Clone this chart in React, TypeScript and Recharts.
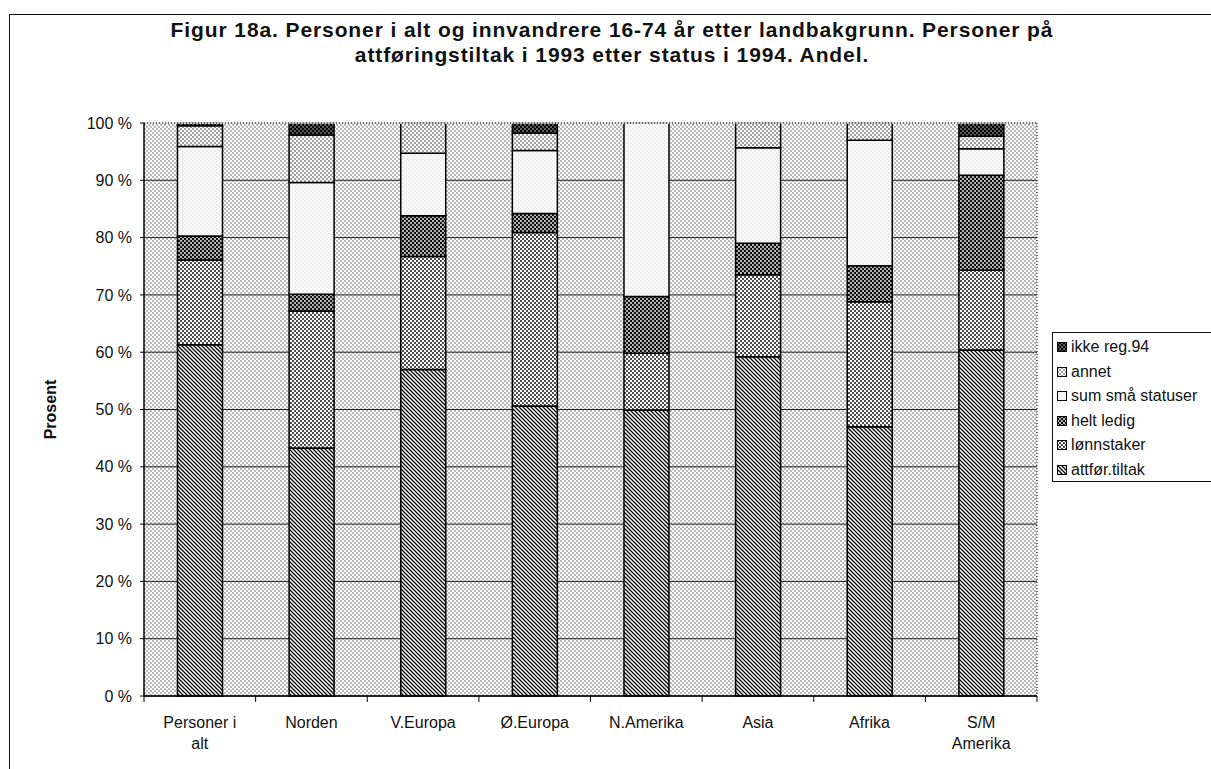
import { BarChart, Bar, XAxis, YAxis, CartesianGrid, ReferenceLine } from "recharts";

const categories = ["Personer i\nalt", "Norden", "V.Europa", "Ø.Europa", "N.Amerika", "Asia", "Afrika", "S/M\nAmerika"];
const attforTiltak = [61.3, 43.3, 57.0, 50.6, 49.9, 59.2, 47.0, 60.4];
const lonnstaker = [14.8, 23.9, 19.7, 30.3, 9.9, 14.3, 21.8, 13.9];
const heltLedig = [4.2, 2.9, 7.1, 3.3, 9.9, 5.5, 6.3, 16.6];
const sumSmaStatuser = [15.6, 19.5, 10.9, 11.0, 30.3, 16.7, 21.9, 4.6];
const annet = [3.6, 8.3, 5.3, 3.0, 0, 4.3, 3.0, 2.2];
const ikkeReg94 = [0.5, 2.1, 0, 1.8, 0, 0, 0, 2.3];
const yTicks = [0, 10, 20, 30, 40, 50, 60, 70, 80, 90, 100];

const data = categories.map((c, i) => ({
  name: c,
  attfor: attforTiltak[i],
  lonn: lonnstaker[i],
  helt: heltLedig[i],
  sum: sumSmaStatuser[i],
  annet: annet[i],
  ikke: ikkeReg94[i],
}));

const series = [
  { key: "attfor", label: "attfør.tiltak", fill: "url(#pAttfor)" },
  { key: "lonn", label: "lønnstaker", fill: "url(#pLonn)" },
  { key: "helt", label: "helt ledig", fill: "url(#pHelt)" },
  { key: "sum", label: "sum små statuser", fill: "url(#pSum)" },
  { key: "annet", label: "annet", fill: "url(#pAnnet)" },
  { key: "ikke", label: "ikke reg.94", fill: "url(#pIkke)" },
];

const font = "'Liberation Sans', Arial, Helvetica, sans-serif";

// halftone-like fills, shared by bars and legend swatches
const Patterns = () => (
  <svg width={0} height={0} style={{ position: "absolute" }}>
    <defs>
      <pattern id="pBg" width={4} height={4} patternUnits="userSpaceOnUse">
        <rect width={4} height={4} fill="#fff" />
        <circle cx={1} cy={1} r={0.65} fill="#333" />
        <circle cx={3} cy={3} r={0.65} fill="#333" />
      </pattern>
      <pattern id="pAttfor" width={4} height={4} patternUnits="userSpaceOnUse">
        <rect width={4} height={4} fill="#fff" />
        <path d="M-1,-1 L5,5 M-1,3 L1,5 M3,-1 L5,1" stroke="#000" strokeWidth={1.25} />
      </pattern>
      <pattern id="pLonn" width={4} height={4} patternUnits="userSpaceOnUse">
        <rect width={4} height={4} fill="#fff" />
        <circle cx={1} cy={1} r={0.95} fill="#000" />
        <circle cx={3} cy={3} r={0.95} fill="#000" />
      </pattern>
      <pattern id="pHelt" width={4} height={4} patternUnits="userSpaceOnUse">
        <rect width={4} height={4} fill="#111" />
        <circle cx={1} cy={1} r={0.9} fill="#fff" />
        <circle cx={3} cy={3} r={0.9} fill="#fff" />
      </pattern>
      <pattern id="pSum" width={4} height={4} patternUnits="userSpaceOnUse">
        <rect width={4} height={4} fill="#fff" />
        <circle cx={1} cy={1} r={0.55} fill="#aaa" />
        <circle cx={3} cy={3} r={0.55} fill="#aaa" />
      </pattern>
      <pattern id="pAnnet" width={4} height={4} patternUnits="userSpaceOnUse">
        <rect width={4} height={4} fill="#fff" />
        <circle cx={1} cy={1} r={0.8} fill="#222" />
        <circle cx={3} cy={3} r={0.8} fill="#222" />
      </pattern>
      <pattern id="pIkke" width={4} height={4} patternUnits="userSpaceOnUse">
        <rect width={4} height={4} fill="#000" />
        <circle cx={1} cy={1} r={0.7} fill="#fff" />
        <circle cx={3} cy={3} r={0.7} fill="#fff" />
      </pattern>
    </defs>
  </svg>
);

const XTick = (props: any) => {
  const { x, y, payload } = props;
  const half = payload.offset || 55.8;
  const lines = String(payload.value).split("\n");
  const isLast = payload.value === categories[categories.length - 1];
  return (
    <g>
      <line x1={x - half} x2={x - half} y1={y} y2={y + 6} stroke="#000" strokeWidth={1} />
      {isLast && <line x1={x + half} x2={x + half} y1={y} y2={y + 6} stroke="#000" strokeWidth={1} />}
      <text x={x} y={y + 32} textAnchor="middle" fontSize={16} fontFamily={font} fill="#111">
        {lines.map((l, i) => (
          <tspan key={i} x={x} dy={i === 0 ? 0 : 21}>
            {l}
          </tspan>
        ))}
      </text>
    </g>
  );
};

const App = () => {
  return (
    <div style={{ position: "absolute", left: 0, top: 0, width: 1211, height: 769, background: "#fff", overflow: "hidden", fontFamily: font }}>
      <Patterns />
      <div style={{ position: "absolute", left: 9, top: 14, width: 1400, height: 900, borderLeft: "1.5px solid #111", borderTop: "1.5px solid #111" }} />
      <div style={{ position: "absolute", left: 0, width: 1224, top: 17, textAlign: "center", fontWeight: "bold", fontSize: 21, letterSpacing: 0.9, lineHeight: "25px", color: "#111" }}>
        Figur 18a. Personer i alt og innvandrere 16-74 år etter landbakgrunn. Personer på
        <br />
        attføringstiltak i 1993 etter status i 1994. Andel.
      </div>
      <div style={{ position: "absolute", left: 0, top: 0 }}>
        <BarChart width={1211} height={769} data={data} margin={{ top: 123, right: 173, bottom: 13, left: 44 }} barCategoryGap="30%">
          <CartesianGrid vertical={false} stroke="#222" strokeWidth={1} fill="url(#pBg)" />
          <XAxis dataKey="name" tick={<XTick />} tickLine={false} tickSize={0} tickMargin={0} height={60} axisLine={{ stroke: "#000", strokeWidth: 1.5 }} interval={0} />
          <YAxis
            domain={[0, 100]}
            ticks={yTicks}
            tickFormatter={(v) => `${v} %`}
            width={100}
            tickSize={4}
            tickMargin={8}
            tick={{ fontSize: 16, fontFamily: font, fill: "#111" }}
            tickLine={{ stroke: "#000" }}
            axisLine={{ stroke: "#000", strokeWidth: 1.5 }}
            label={{ value: "Prosent", angle: -90, position: "insideLeft", offset: 6, style: { fontSize: 16, fontWeight: "bold", fontFamily: font, fill: "#111", textAnchor: "middle" } }}
          />
          <YAxis yAxisId="r" orientation="right" width={1} tick={false} tickLine={false} axisLine={{ stroke: "#000", strokeDasharray: "1 2" }} />
          <ReferenceLine y={100} stroke="#fff" strokeWidth={1.5} />
          <ReferenceLine y={100} stroke="#000" strokeDasharray="1 2" />
          {series.map((s) => (
            <Bar key={s.key} dataKey={s.key} stackId="a" fill={s.fill} stroke="#000" strokeWidth={1.5} isAnimationActive={false} />
          ))}
        </BarChart>
      </div>
      <div style={{ position: "absolute", left: 1052, top: 332, width: 220, height: 148, border: "1px solid #111", background: "#fff" }}>
        {series
          .slice()
          .reverse()
          .map((s, i) => (
            <div key={s.key} style={{ position: "absolute", left: 4, top: 4 + i * 24.6, height: 20, display: "flex", alignItems: "center", fontSize: 16, color: "#111", whiteSpace: "nowrap" }}>
              <svg width={10} height={10} style={{ marginRight: 4 }}>
                <rect x={0.5} y={0.5} width={9} height={9} fill={s.fill} stroke="#000" strokeWidth={1} />
              </svg>
              {s.label}
            </div>
          ))}
      </div>
    </div>
  );
};

export default App;
